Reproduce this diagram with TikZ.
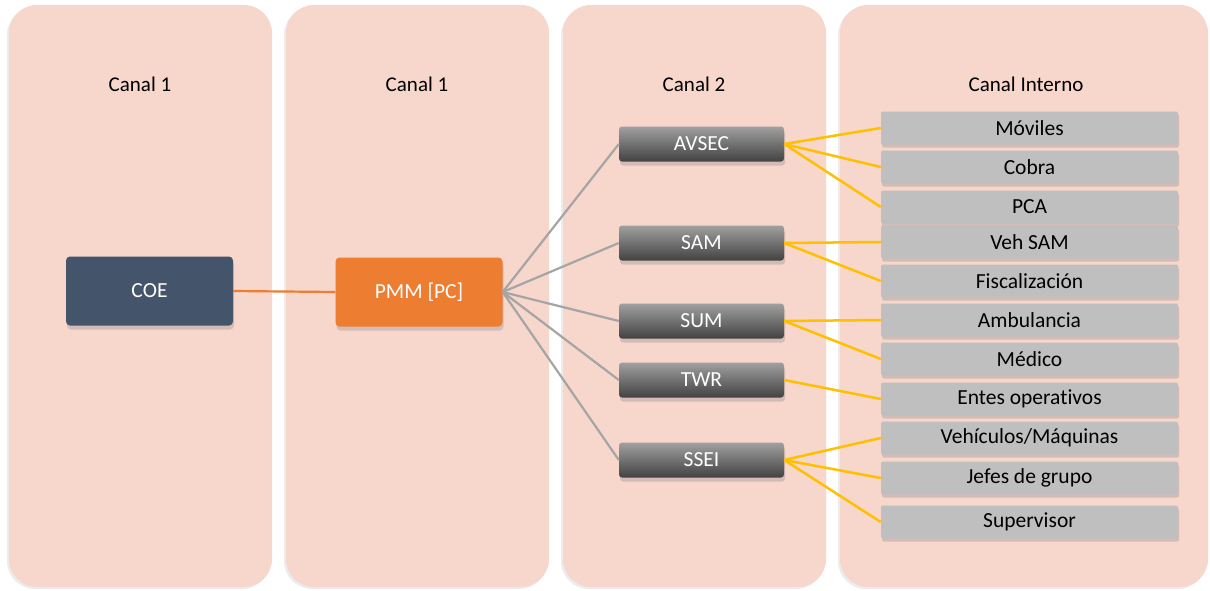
\documentclass[tikz,border=0pt]{standalone}
\usepackage{fontspec}
\setmainfont{Carlito}[Ligatures={NoCommon}]
\usetikzlibrary{shadows}
\definecolor{colbg}{HTML}{F7D6CB}
\definecolor{coe}{HTML}{44546A}
\definecolor{pmm}{HTML}{ED7D31}
\definecolor{gtop}{HTML}{A0A0A0}
\definecolor{gbot}{HTML}{424242}
\definecolor{lgray}{HTML}{BFBFBF}
\definecolor{yel}{HTML}{FFC000}
\definecolor{lnk}{HTML}{A5A5A5}
\begin{document}
\begin{tikzpicture}[x=1pt,y=-1pt,
  colbox/.style={fill=colbg, rounded corners=28pt, drop shadow={shadow xshift=-2pt, shadow yshift=-2pt, opacity=0.15}},
  title/.style={font=\fontsize{21}{25}\selectfont, text=black},
  bigbox/.style={rectangle, rounded corners=4pt, minimum width=167pt, minimum height=69pt, text=white, font=\fontsize{21.5}{25}\selectfont, drop shadow={shadow xshift=1pt, shadow yshift=-4pt, opacity=0.3}},
  midbox/.style={rectangle, rounded corners=3pt, minimum width=165pt, minimum height=35pt, inner sep=2pt, top color=gtop, bottom color=gbot, text=white, font=\fontsize{21.5}{25}\selectfont, drop shadow={shadow xshift=1pt, shadow yshift=-4pt, opacity=0.3}},
  rbox/.style={rectangle, rounded corners=2pt, minimum width=297pt, minimum height=33pt, inner sep=2pt, fill=lgray, text=black, font=\fontsize{21.5}{25}\selectfont, drop shadow={shadow xshift=1pt, shadow yshift=-3pt, opacity=0.3}},
  glink/.style={draw=lnk, line width=2.2pt},
  ylink/.style={draw=yel, line width=2.5pt},
  olink/.style={draw=pmm, line width=2.2pt}
]
\useasboundingbox (0,0) rectangle (1210,590);
\fill[white] (0,0) rectangle (1210,590);
\path[colbox] (9,5) rectangle (272,587);
\path[colbox] (286,5) rectangle (549,587);
\path[colbox] (563,5) rectangle (826,587);
\path[colbox] (840,5) rectangle (1208,587);

\node[title] (t1) at (140,84) {Canal 1};
\node[title] (t2) at (417,84) {Canal 1};
\node[title] (t3) at (694,84) {Canal 2};
\node[title] (t4) at (1026,84) {Canal Interno};

\node[bigbox, fill=coe] (coe) at (149.5,291) {COE};
\node[bigbox, fill=pmm] (pmmn) at (419,292) {PMM [PC]};

\node[midbox] (avsec) at (701.5,144) {AVSEC};
\node[midbox] (sam) at (701.5,243) {SAM};
\node[midbox] (sum) at (701.5,321) {SUM};
\node[midbox] (twr) at (701.5,380) {TWR};
\node[midbox] (ssei) at (701.5,460) {SSEI};

\node[rbox] (r1) at (1029.5,128) {Móviles};
\node[rbox] (r2) at (1029.5,167) {Cobra};
\node[rbox] (r3) at (1029.5,207) {PCA};
\node[rbox] (r4) at (1029.5,242) {Veh SAM};
\node[rbox] (r5) at (1029.5,281) {Fiscalización};
\node[rbox] (r6) at (1029.5,320) {Ambulancia};
\node[rbox] (r7) at (1029.5,359) {Médico};
\node[rbox] (r8) at (1029.5,399) {Entes operativos};
\node[rbox] (r9) at (1029.5,438) {Vehículos/Máquinas};
\node[rbox] (r10) at (1029.5,478) {Jefes de grupo};
\node[rbox] (r11) at (1029.5,522) {Supervisor};

\draw[olink] (coe.east) -- (pmmn.west);
\foreach \n in {avsec,sam,sum,twr,ssei}
  \draw[glink] (pmmn.east) -- (\n.west);
\foreach \a/\b in {avsec/r1,avsec/r2,avsec/r3,sam/r4,sam/r5,sum/r6,sum/r7,twr/r8,ssei/r9,ssei/r10,ssei/r11}
  \draw[ylink] (\a.east) -- (\b.west);
\end{tikzpicture}
\end{document}
